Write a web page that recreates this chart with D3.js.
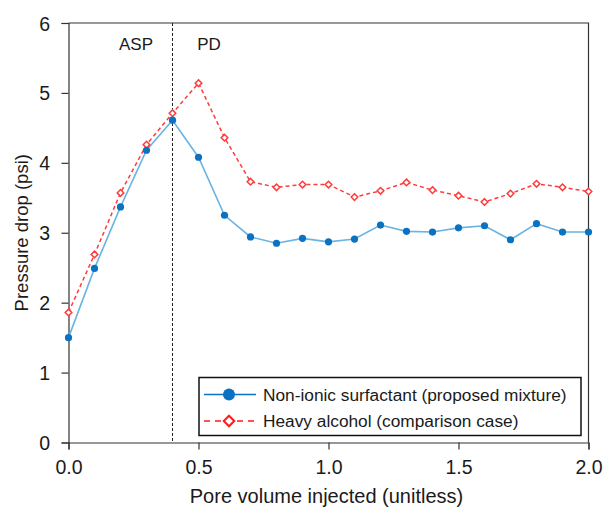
<!DOCTYPE html>
<html lang="en">
<head>
    <meta charset="UTF-8">
    <title>Pressure drop</title>
    <script src="https://d3js.org/d3.v7.js"></script>
    <style>
        body { margin: 0; background: #fff; }
        text { font-family: "Liberation Sans", Arial, sans-serif; fill: #1a1a1a; }
    </style>
</head>
<body>
<svg></svg>
<script>
    // values
    const poreVolume = [0.0, 0.1, 0.2, 0.3, 0.4, 0.5, 0.6, 0.7, 0.8, 0.9, 1.0,
                        1.1, 1.2, 1.3, 1.4, 1.5, 1.6, 1.7, 1.8, 1.9, 2.0];
    const nonIonic = [1.50, 2.49, 3.37, 4.18, 4.61, 4.08, 3.25, 2.94, 2.85, 2.92, 2.87,
                      2.91, 3.11, 3.02, 3.01, 3.07, 3.10, 2.90, 3.13, 3.01, 3.01];
    const heavyAlcohol = [1.86, 2.69, 3.57, 4.26, 4.71, 5.14, 4.36, 3.73, 3.65, 3.69, 3.69,
                          3.51, 3.60, 3.72, 3.61, 3.53, 3.44, 3.56, 3.70, 3.65, 3.59];
    const xTicks = [0, 0.5, 1.0, 1.5, 2.0];
    const yTicks = [0, 1, 2, 3, 4, 5, 6];
    const seriesNames = ["Non-ionic surfactant (proposed mixture)", "Heavy alcohol (comparison case)"];
    const phaseSplit = 0.4;

    const width = 603, height = 508;
    const margin = { left: 68.5, right: 14.5, top: 23, bottom: 65.5 };
    const svg = d3.select("svg").attr("width", width).attr("height", height);

    const x = d3.scaleLinear().domain([0, 2]).range([margin.left, width - margin.right]);
    const y = d3.scaleLinear().domain([0, 6]).range([height - margin.bottom, margin.top]);

    const blueLine = "#6ab4e2", blueMark = "#0a72c2", red = "#ff3b3b";

    // frame: top and right lines
    svg.append("path")
        .attr("d", `M${x(0)},${y(6)}H${x(2)}V${y(0)}`)
        .attr("fill", "none").attr("stroke", "#333").attr("stroke-width", 1.2);

    const xAxis = svg.append("g")
        .attr("transform", `translate(0,${y(0)})`)
        .call(d3.axisBottom(x).tickValues(xTicks).tickFormat(d3.format(".1f")).tickSizeOuter(0).tickSize(7));
    const yAxis = svg.append("g")
        .attr("transform", `translate(${x(0)},0)`)
        .call(d3.axisLeft(y).tickValues(yTicks).tickFormat(d3.format("d")).tickSizeOuter(0).tickSize(7));
    [xAxis, yAxis].forEach(g => {
        g.selectAll("path, line").attr("stroke", "#333").attr("stroke-width", 1.2);
        g.selectAll("text").style("font-size", "19.5px").attr("fill", "#1a1a1a");
    });
    xAxis.selectAll("text").attr("y", 31.3).attr("dy", 0);
    yAxis.selectAll("text").attr("x", -18.5).attr("dy", "0.36em");

    // phase divider
    svg.append("line")
        .attr("x1", x(phaseSplit)).attr("x2", x(phaseSplit))
        .attr("y1", y(6)).attr("y2", y(0))
        .attr("stroke", "#222").attr("stroke-width", 1).attr("stroke-dasharray", "3,2");
    svg.append("text").attr("x", x(phaseSplit) - 36.5).attr("y", 50)
        .attr("text-anchor", "middle").style("font-size", "17px").text("ASP");
    svg.append("text").attr("x", x(phaseSplit) + 36.5).attr("y", 50)
        .attr("text-anchor", "middle").style("font-size", "17px").text("PD");

    const line = d3.line().x(d => x(d[0])).y(d => y(d[1]));
    const redData = poreVolume.map((v, i) => [v, heavyAlcohol[i]]);
    const blueData = poreVolume.map((v, i) => [v, nonIonic[i]]);

    svg.append("path").datum(redData).attr("d", line)
        .attr("fill", "none").attr("stroke", red).attr("stroke-width", 1.5).attr("stroke-dasharray", "4,3");
    svg.append("path").datum(blueData).attr("d", line)
        .attr("fill", "none").attr("stroke", blueLine).attr("stroke-width", 1.6);

    const diamond = d3.symbol().type(d3.symbolDiamond2);
    svg.selectAll(".red-pt").data(redData).join("path")
        .attr("class", "red-pt")
        .attr("transform", d => `translate(${x(d[0])},${y(d[1])})`)
        .attr("d", diamond.size(28))
        .attr("fill", "#fff").attr("stroke", red).attr("stroke-width", 1.5);
    svg.selectAll(".blue-pt").data(blueData).join("circle")
        .attr("class", "blue-pt")
        .attr("cx", d => x(d[0])).attr("cy", d => y(d[1])).attr("r", 3.6)
        .attr("fill", blueMark);

    // legend
    const lg = svg.append("g").attr("transform", "translate(199,377.5)");
    lg.append("rect").attr("width", 382).attr("height", 58)
        .attr("fill", "#fff").attr("stroke", "#111").attr("stroke-width", 1.5);
    lg.append("line").attr("x1", 5).attr("x2", 57).attr("y1", 17).attr("y2", 17)
        .attr("stroke", blueMark).attr("stroke-width", 1.6);
    lg.append("circle").attr("cx", 30).attr("cy", 17).attr("r", 6).attr("fill", blueMark);
    lg.append("line").attr("x1", 5).attr("x2", 57).attr("y1", 43.5).attr("y2", 43.5)
        .attr("stroke", "#ff1a1a").attr("stroke-width", 1.6).attr("stroke-dasharray", "6,5");
    lg.append("path").attr("transform", "translate(30,43.5)")
        .attr("d", d3.symbol().type(d3.symbolDiamond2).size(70)())
        .attr("fill", "#fff").attr("stroke", "#ff1a1a").attr("stroke-width", 2);
    lg.selectAll(".lt").data(seriesNames).join("text")
        .attr("class", "lt")
        .attr("x", 64).attr("y", (d, i) => i === 0 ? 17 : 43.5).attr("dy", "0.35em")
        .style("font-size", "17.3px").text(d => d);

    // axis titles
    svg.append("text").attr("x", (x(0) + x(2)) / 2 - 2).attr("y", 503)
        .attr("text-anchor", "middle").style("font-size", "20px").text("Pore volume injected (unitless)");
    svg.append("text").attr("transform", `translate(28,${(y(0) + y(6)) / 2}) rotate(-90)`)
        .attr("text-anchor", "middle").style("font-size", "18.5px").text("Pressure drop (psi)");
</script>
</body>
</html>
